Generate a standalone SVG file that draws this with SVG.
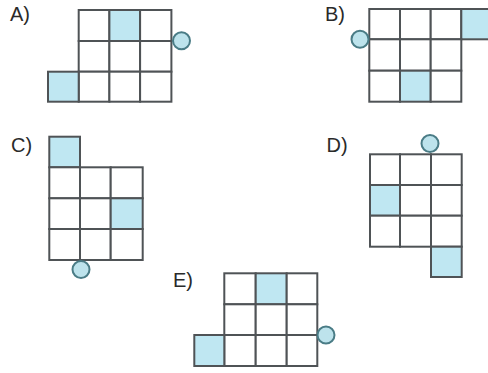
<svg xmlns="http://www.w3.org/2000/svg" width="488" height="373" viewBox="0 0 488 373">
<style>
.lbl{font-family:"Liberation Sans",Arial,sans-serif;font-size:20px;fill:#2a2a2a}
.c{fill:#ffffff;stroke:#4f5356;stroke-width:2}
.s{fill:#bfe7f2;stroke:#4f5356;stroke-width:2}
.k{fill:#bde3ec;stroke:#4a7c86;stroke-width:2}
</style>
<rect width="488" height="373" fill="#ffffff"/>
<g id="A">
<text class="lbl" x="10" y="21">A)</text>
<rect class="c" x="78.7" y="10" width="30.7" height="31"/>
<rect class="s" x="109.4" y="10" width="30.7" height="31"/>
<rect class="c" x="140.1" y="10" width="31.3" height="31"/>
<rect class="c" x="78.7" y="41" width="30.7" height="30.7"/>
<rect class="c" x="109.4" y="41" width="30.7" height="30.7"/>
<rect class="c" x="140.1" y="41" width="31.3" height="30.7"/>
<rect class="c" x="78.7" y="71.7" width="30.7" height="30"/>
<rect class="c" x="109.4" y="71.7" width="30.7" height="30"/>
<rect class="c" x="140.1" y="71.7" width="31.3" height="30"/>
<rect class="s" x="48" y="71.7" width="30.7" height="30"/>
<circle class="k" cx="181.5" cy="40.7" r="8.5"/>
</g>
<g id="B">
<text class="lbl" x="325" y="21">B)</text>
<rect class="c" x="369.3" y="9" width="30.7" height="30.3"/>
<rect class="c" x="400" y="9" width="30.7" height="30.3"/>
<rect class="c" x="430.7" y="9" width="30.6" height="30.3"/>
<rect class="s" x="461.3" y="9" width="31" height="30.3"/>
<rect class="c" x="369.3" y="39.3" width="30.7" height="31.4"/>
<rect class="c" x="400" y="39.3" width="30.7" height="31.4"/>
<rect class="c" x="430.7" y="39.3" width="30.6" height="31.4"/>
<rect class="c" x="369.3" y="70.7" width="30.7" height="31"/>
<rect class="s" x="400" y="70.7" width="30.7" height="31"/>
<rect class="c" x="430.7" y="70.7" width="30.6" height="31"/>
<circle class="k" cx="360" cy="39.3" r="8.5"/>
</g>
<g id="C">
<text class="lbl" x="11" y="152">C)</text>
<rect class="s" x="49.3" y="136.7" width="30.7" height="30.6"/>
<rect class="c" x="49.3" y="167.3" width="30.7" height="31"/>
<rect class="c" x="80" y="167.3" width="30.7" height="31"/>
<rect class="c" x="110.7" y="167.3" width="32" height="31"/>
<rect class="c" x="49.3" y="198.3" width="30.7" height="30.7"/>
<rect class="c" x="80" y="198.3" width="30.7" height="30.7"/>
<rect class="s" x="110.7" y="198.3" width="32" height="30.7"/>
<rect class="c" x="49.3" y="229" width="30.7" height="31"/>
<rect class="c" x="80" y="229" width="30.7" height="31"/>
<rect class="c" x="110.7" y="229" width="32" height="31"/>
<circle class="k" cx="81" cy="269.5" r="8.5"/>
</g>
<g id="D">
<text class="lbl" x="326.5" y="152">D)</text>
<rect class="c" x="370" y="154.3" width="30" height="30.7"/>
<rect class="c" x="400" y="154.3" width="31" height="30.7"/>
<rect class="c" x="431" y="154.3" width="30.7" height="30.7"/>
<rect class="s" x="370" y="185" width="30" height="30.7"/>
<rect class="c" x="400" y="185" width="31" height="30.7"/>
<rect class="c" x="431" y="185" width="30.7" height="30.7"/>
<rect class="c" x="370" y="215.7" width="30" height="31"/>
<rect class="c" x="400" y="215.7" width="31" height="31"/>
<rect class="c" x="431" y="215.7" width="30.7" height="31"/>
<rect class="s" x="431" y="246.7" width="30.7" height="30.3"/>
<circle class="k" cx="430" cy="143.5" r="8.5"/>
</g>
<g id="E">
<text class="lbl" x="173" y="287">E)</text>
<rect class="c" x="224.3" y="273.3" width="31.4" height="31"/>
<rect class="s" x="255.7" y="273.3" width="31" height="31"/>
<rect class="c" x="286.7" y="273.3" width="30.6" height="31"/>
<rect class="c" x="224.3" y="304.3" width="31.4" height="30.7"/>
<rect class="c" x="255.7" y="304.3" width="31" height="30.7"/>
<rect class="c" x="286.7" y="304.3" width="30.6" height="30.7"/>
<rect class="c" x="224.3" y="335" width="31.4" height="31"/>
<rect class="c" x="255.7" y="335" width="31" height="31"/>
<rect class="c" x="286.7" y="335" width="30.6" height="31"/>
<rect class="s" x="194.3" y="335" width="30" height="31"/>
<circle class="k" cx="326" cy="335" r="8.5"/>
</g>
<g id="connectors"></g>
</svg>
